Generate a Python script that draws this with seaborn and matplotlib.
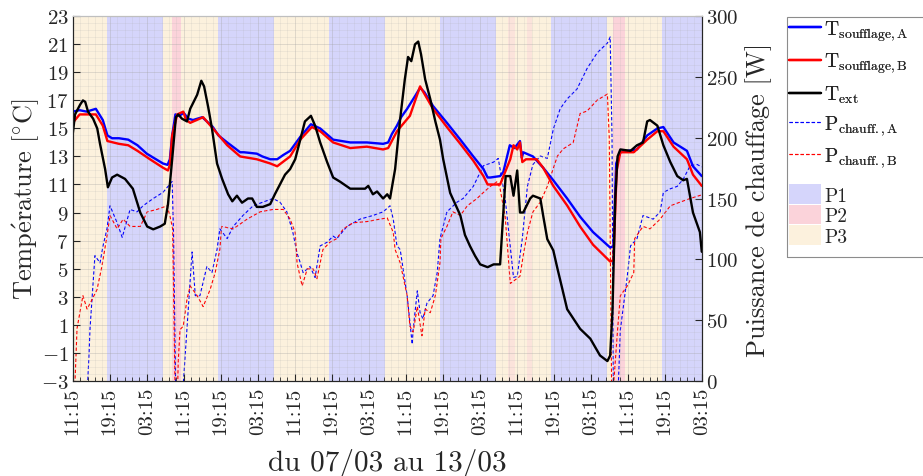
import numpy as np
import pandas as pd
import matplotlib
matplotlib.use("Agg")
import matplotlib.pyplot as plt
import matplotlib.dates as mdates
from matplotlib.lines import Line2D
from matplotlib.patches import Patch, Rectangle
import seaborn as sns

# ---- données (heures depuis le 07/03 11:15) ----
t_sa_h = [0, 1.5, 3, 5, 6.5, 7.5, 8.5, 10, 12, 14, 16, 18, 19.5, 20.5, 21, 21.5, 22.2, 23, 24, 25,
          26, 28, 29, 30.3, 31.5, 33.4, 35, 36.2, 37, 39.8, 41, 42.7, 44.2, 45.5, 47, 49.2, 51.5, 53.5,
          56.3, 60, 63.6, 67.1, 68.2, 69, 70.1, 71, 72.3, 74, 75.1, 76, 77.9, 80.9, 83.8, 86.6, 88.8,
          89.7, 90.3, 92.4, 93.1, 94.5, 95.5, 96.7, 97.1, 97.4, 99.5, 101.7, 103.9, 106.9, 109.7,
          112.5, 116.2, 116.9, 117.5, 118.4, 120, 122, 124.2, 126.4, 127.7, 129.9, 132.8, 134.1, 136]
t_sa = [16.2, 16.3, 16.2, 16.4, 15.6, 14.5, 14.3, 14.3, 14.2, 13.8, 13.2, 12.8, 12.5, 12.4, 12.8, 14.5,
        16.0, 15.9, 16.1, 15.7, 15.6, 15.8, 15.5, 15.1, 14.5, 14.0, 13.6, 13.3, 13.3, 13.2, 13.0, 12.8,
        12.8, 13.1, 13.4, 14.4, 15.3, 15.0, 14.2, 14.0, 14.0, 13.9, 14.0, 14.6, 15.2, 15.8, 16.4, 17.3,
        17.9, 17.6, 16.6, 15.4, 14.2, 13.0, 12.1, 11.5, 11.5, 11.6, 11.9, 13.8, 13.6, 14.1, 12.9, 13.3,
        13.0, 12.2, 11.3, 10.0, 8.7, 7.6, 6.5, 6.6, 12.5, 13.3, 13.4, 13.5, 14.5, 15.0, 15.1, 14.0,
        13.4, 12.3, 11.6]

t_sb_h = [0, 1.5, 3, 5, 6.5, 7.5, 10, 12, 14, 16.7, 19.5, 20.6, 21, 21.5, 22.6, 23.9, 24.5, 25.4,
          28.2, 30.3, 33.4, 36.2, 39.8, 42.7, 44.2, 47, 49.2, 51.7, 53.5, 56.3, 60, 63.6, 67.1, 68.2,
          70.1, 72.9, 75.1, 77.9, 80.9, 83.8, 86.6, 88.8, 89.7, 92.4, 94.6, 95.3, 96.1, 96.7, 97.2,
          98.0, 100.3, 101.7, 103.9, 106.9, 109.7, 112.5, 116.2, 116.9, 117.6, 118.4, 121.3, 124.2,
          126.4, 127.7, 129.9, 132.8, 134.1, 136]
t_sb = [15.4, 16.0, 16.0, 16.0, 15.2, 14.1, 13.9, 13.8, 13.4, 12.8, 12.2, 12.0, 12.4, 14.5, 16.0, 16.2,
        15.6, 15.4, 15.8, 15.0, 13.8, 13.0, 12.8, 12.5, 12.3, 13.0, 14.2, 15.1, 14.8, 14.0, 13.6, 13.7,
        13.5, 13.6, 14.8, 15.9, 18.0, 16.4, 15.1, 13.9, 12.7, 11.6, 11.0, 11.0, 12.8, 13.8, 13.5, 14.0,
        12.6, 12.8, 12.8, 12.2, 10.9, 9.5, 8.0, 6.7, 5.5, 5.6, 12.0, 13.3, 13.3, 14.2, 14.8, 14.8,
        13.7, 12.8, 11.7, 10.9]

t_ext_h = [0, 0.5, 1.6, 2.2, 2.7, 3.3, 4.4, 5.3, 5.9, 7.0, 7.6, 8.5, 9.6, 11.3, 13.0, 14.6, 16.1, 17.4,
           18.9, 19.9, 20.6, 21.5, 22.3, 22.8, 23.6, 24.7, 25.4, 26.9, 27.8, 28.4, 29.3, 30.1, 31.2,
           32.3, 33.6, 34.5, 35.5, 36.6, 37.9, 38.8, 39.8, 41.1, 42.7, 43.7, 44.8, 45.9, 47.0, 48.1,
           49.2, 50.2, 51.5, 52.4, 53.5, 55.0, 56.3, 57.8, 60.0, 62.1, 63.2, 63.9, 64.9, 65.8, 67.1,
           68.0, 68.6, 69.7, 70.8, 71.8, 72.5, 73.2, 74.0, 74.7, 75.3, 76.2, 77.3, 78.4, 79.4, 80.1,
           81.6, 82.7, 83.8, 84.8, 85.9, 87.0, 88.1, 89.7, 91.0, 92.4, 93.1, 93.6, 94.6, 95.3, 96.1,
           96.7, 97.4, 98.9, 99.5, 101.1, 101.7, 102.6, 103.9, 104.8, 106.9, 109.7, 111.9, 114.0,
           115.6, 116.2, 116.7, 117.3, 117.8, 118.4, 120.6, 122.0, 123.3, 124.2, 124.8, 126.4, 127.7,
           129.2, 130.7, 132.0, 132.8, 134.1, 135.6, 136]
t_ext = [14.6, 16.0, 16.7, 17.0, 16.9, 16.2, 15.7, 15.0, 13.9, 12.1, 10.8, 11.5, 11.7, 11.4, 10.7, 9.0,
         8.0, 7.8, 8.0, 8.2, 9.6, 12.8, 15.8, 16.0, 15.7, 15.5, 16.4, 17.4, 18.4, 18.0, 16.5, 15.0,
         12.5, 11.4, 10.3, 9.8, 10.2, 9.7, 10.0, 10.0, 9.4, 9.4, 9.6, 10.3, 11.0, 11.7, 12.1, 12.8,
         14.2, 15.5, 15.9, 15.2, 14.0, 12.6, 11.5, 11.2, 10.7, 10.7, 10.7, 10.9, 10.3, 10.5, 10.0,
         10.3, 10.0, 12.1, 15.7, 18.5, 20.1, 19.8, 21.0, 21.2, 20.3, 18.5, 17.1, 15.5, 14.2, 12.8,
         10.4, 9.6, 8.8, 7.4, 6.6, 5.9, 5.3, 5.1, 5.3, 5.3, 9.0, 11.6, 11.6, 10.2, 12.0, 9.0, 9.0,
         10.0, 10.2, 10.0, 8.8, 7.1, 6.3, 5.0, 2.1, 0.7, 0.0, -1.2, -1.6, -1.2, 2.0, 10.0, 13.0, 13.5,
         13.4, 13.8, 14.0, 15.5, 15.6, 15.2, 13.8, 12.6, 11.6, 11.3, 11.4, 9.0, 7.6, 6.2]

p_a_h = [0, 3.0, 3.5, 3.74, 4.8, 5.9, 6.55, 7.4, 8.06, 9.6, 10.7, 12.4, 13.9, 15.2, 17.4, 19.5, 20.6,
         21.5, 21.8, 22.3, 23.6, 24.7, 25.8, 26.5, 27.5, 29.0, 30.1, 31.2, 31.8, 33.4, 34.7, 36.8,
         39.0, 41.1, 43.3, 44.8, 46.3, 47.6, 48.5, 49.2, 49.8, 51.3, 52.4, 53.5, 55.0, 56.3, 57.1,
         59.3, 62.1, 64.9, 67.1, 68.6, 69.3, 70.1, 70.8, 72.3, 73.4, 73.6, 74.5, 75.1, 75.7, 76.6,
         77.9, 78.8, 79.4, 80.9, 83.1, 84.4, 86.6, 88.8, 91.0, 92.0, 92.4, 93.5, 95.3, 96.1, 97.2,
         98.3, 99.5, 101.1, 102.6, 103.9, 105.4, 106.9, 109.0, 111.2, 113.4, 115.6, 116.2, 116.6,
         116.9, 117.8, 118.4, 119.9, 120.6, 122.0, 123.3, 125.5, 127.0, 127.7, 129.2, 130.7, 132.0,
         133.5, 135.0, 136]
p_a = [-20, -20, 20, 43, 103, 97, 111, 125, 144, 130, 118, 141, 139, 144, 150, 155, 160, 164, 120, -20,
       -20, 43, 106, 70, 70, 94, 89, 108, 125, 117, 127, 136, 144, 147, 150, 147, 139, 122, 105, 97, 89,
       94, 85, 111, 114, 119, 117, 127, 133, 136, 139, 144, 133, 111, 108, 70, 30, 42, 74, 56, 51, 64,
       70, 89, 117, 139, 147, 150, 160, 177, 180, 183, 174, 150, 85, 86, 117, 160, 178, 185, 183, 207,
       224, 232, 240, 257, 270, 278, 283, 200, -20, -20, 42, 86, 111, 117, 136, 133, 139, 155, 158,
       160, 166, 177, 178, 176]

p_b_h = [0, 0.3, 0.5, 0.93, 2.2, 3.1, 4.2, 5.25, 6.3, 7.4, 8.06, 9.6, 10.9, 12.4, 14.6, 16.1, 18.2,
         20.4, 21.0, 21.6, 22.1, 22.3, 22.6, 22.8, 23.2, 23.9, 24.7, 25.4, 26.9, 28.2, 29.7, 30.8,
         31.8, 32.2, 34.7, 37.7, 40.5, 43.3, 45.5, 47.0, 48.1, 48.5, 49.6, 50.7, 52.0, 52.8, 54.1,
         55.6, 57.1, 58.5, 60.6, 63.6, 66.4, 68.0, 69.3, 69.7, 70.8, 72.3, 72.9, 73.6, 74.5, 75.5,
         76.2, 77.3, 78.4, 79.4, 79.6, 80.9, 82.2, 83.8, 85.3, 87.4, 88.8, 90.3, 91.8, 92.4, 93.5,
         94.6, 96.7, 97.4, 98.3, 99.5, 101.1, 102.6, 104.8, 106.1, 108.2, 109.7, 111.2, 113.4, 115.6,
         116.0, 116.5, 116.9, 117.0, 117.8, 118.4, 119.9, 121.3, 121.5, 123.3, 124.8, 127.0, 129.2,
         131.3, 133.5, 136]
p_b = [-20, -20, 0, 43, 70, 59, 67, 75, 94, 119, 136, 125, 133, 127, 127, 139, 141, 144, 136, 125, 0,
       -20, -20, 15, 42, 45, 67, 78, 70, 61, 75, 89, 108, 127, 125, 133, 139, 141, 141, 133, 122, 97,
       78, 92, 92, 84, 108, 114, 117, 125, 130, 131, 133, 134, 122, 108, 97, 70, 45, 40, 61, 37, 59,
       56, 70, 97, 117, 127, 139, 136, 144, 150, 155, 160, 164, 158, 135, 80, 86, 103, 122, 139, 147,
       160, 185, 191, 196, 220, 222, 231, 236, 200, 0, -20, 0, 42, 70, 78, 89, 117, 127, 125, 133,
       144, 147, 150, 153]

# périodes (heures)
p1_periods = [(7.5, 19.5), (31.5, 43.5), (55.5, 67.5), (79.5, 91.5), (103.5, 115.5), (127.5, 136)]
p2_periods = [(21.4, 23.4), (116.9, 119.5)]
p2_short_periods = [(94.2, 95.6), (98.2, 99.3)]

line_labels = [
    r"$\mathrm{T}_{\mathrm{soufflage,A}}$",
    r"$\mathrm{T}_{\mathrm{soufflage,B}}$",
    r"$\mathrm{T}_{\mathrm{ext}}$",
    r"$\mathrm{P}_{\mathrm{chauff.,A}}$",
    r"$\mathrm{P}_{\mathrm{chauff.,B}}$",
]
period_labels = ["P1", "P2", "P3"]

t0 = pd.Timestamp("2023-03-07 11:15")
t_end = t0 + pd.Timedelta(hours=136)


def to_time(hours):
    return t0 + pd.to_timedelta(np.asarray(hours, dtype=float), unit="h")


sns.set_style("ticks")
plt.rcParams["font.family"] = ["cmr10", "DejaVu Serif"]
plt.rcParams["mathtext.fontset"] = "cm"
plt.rcParams["axes.unicode_minus"] = False
plt.rcParams["axes.formatter.use_mathtext"] = True

col_p1 = "#d5d5fb"
col_p2 = "#fbd3da"
col_p3 = "#fcf1dd"
dash = (0, (3, 2))
W, H = 923, 477

fig = plt.figure(figsize=(W / 100, H / 100), dpi=100)
ax1 = fig.add_axes([0.0788, 0.1998, 0.6815, 0.7639])
ax2 = ax1.twinx()
ax1.set_zorder(2)
ax2.set_zorder(1)
ax1.patch.set_visible(False)
ax2.patch.set_visible(True)
ax2.patch.set_facecolor("white")

# fonds de périodes
ax2.axvspan(t0, t_end, color=col_p3, lw=0, zorder=0.1)
for a, b in p1_periods:
    ax2.axvspan(to_time([a])[0], to_time([b])[0], color=col_p1, lw=0, zorder=0.2)
for a, b in p2_periods:
    ax2.axvspan(to_time([a])[0], to_time([b])[0], color=col_p2, lw=0, zorder=0.2)
for a, b in p2_short_periods:
    ax2.axvspan(to_time([a])[0], to_time([b])[0], color=col_p2, alpha=0.45, lw=0, zorder=0.2)

# puissances (axe droit)
sns.lineplot(x=to_time(p_a_h), y=p_a, ax=ax2, color="#0000ff", lw=0.8, linestyle=dash,
             estimator=None, sort=False)
sns.lineplot(x=to_time(p_b_h), y=p_b, ax=ax2, color="#ff0000", lw=0.8, linestyle=dash,
             estimator=None, sort=False)

# températures (axe gauche)
sns.lineplot(x=to_time(t_sa_h), y=t_sa, ax=ax1, color="#0000ff", lw=1.7, estimator=None, sort=False)
sns.lineplot(x=to_time(t_sb_h), y=t_sb, ax=ax1, color="#ff0000", lw=1.7, estimator=None, sort=False)
sns.lineplot(x=to_time(t_ext_h), y=t_ext, ax=ax1, color="#000000", lw=1.7, estimator=None, sort=False)

# axes
ax1.set_xlim(t0, t_end)
ax1.set_ylim(-3, 23)
ax2.set_ylim(0, 300)
ax1.set_yticks(np.arange(-3, 24, 2))
ax1.set_yticks(np.arange(-3, 23.01, 0.5), minor=True)
ax2.set_yticks(np.arange(0, 301, 50))
major = pd.date_range(t0, t_end, freq="8h")
minor = pd.date_range(t0, t_end, freq="96min")
ax1.set_xticks(major)
ax1.set_xticks(minor, minor=True)
ax1.xaxis.set_major_formatter(mdates.DateFormatter("%H:%M"))

ax1.tick_params(axis="x", which="major", direction="in", length=5, labelsize=15, labelrotation=90, pad=4)
ax1.tick_params(axis="x", which="minor", direction="in", length=3)
ax1.tick_params(axis="y", which="major", direction="in", length=5, labelsize=15, pad=3)
ax1.tick_params(axis="y", which="minor", length=0)
ax2.tick_params(axis="y", direction="in", length=5, labelsize=15, pad=3)

ax1.grid(True, which="major", color="#a0a0a0", lw=0.5, alpha=0.45)
ax1.grid(True, which="minor", color="#b0b0b0", lw=0.4, alpha=0.3)

for ax in (ax1, ax2):
    for s in ax.spines.values():
        s.set_color("#262626")
        s.set_linewidth(0.8)
    ax.spines["top"].set_color("#bfbfbf")

ax1.set_xlabel("du 07/03 au 13/03", fontsize=21, labelpad=10)
ax1.set_ylabel(r"$\mathrm{Temp\acute{e}rature\ [^{\circ}C]}$", fontsize=19, labelpad=-1)
ax2.set_ylabel("Puissance de chauffage [W]", fontsize=19, labelpad=5)

# légende : cadre commun, lignes puis périodes
fig.add_artist(Rectangle((787 / W, 1 - 258 / H), 160 / W, 240 / H, transform=fig.transFigure,
                         fill=False, edgecolor="#8c8c8c", lw=0.8))
line_handles = [
    Line2D([], [], color="#0000ff", lw=1.7),
    Line2D([], [], color="#ff0000", lw=1.7),
    Line2D([], [], color="#000000", lw=1.7),
    Line2D([], [], color="#0000ff", lw=0.8, linestyle=dash),
    Line2D([], [], color="#ff0000", lw=0.8, linestyle=dash),
]
period_handles = [Patch(facecolor=c, edgecolor="none") for c in (col_p1, col_p2, col_p3)]
leg1 = fig.legend(line_handles, line_labels, loc="upper left", bbox_to_anchor=(789 / W, 1 - 19 / H),
                  fontsize=14, frameon=False, borderaxespad=0, borderpad=0, labelspacing=0.42,
                  handlelength=1.65, handletextpad=0.15)
fig.legend(period_handles, period_labels, loc="upper left", bbox_to_anchor=(789 / W, 1 - 185 / H),
           fontsize=14, frameon=False, borderaxespad=0, borderpad=0, labelspacing=0,
           handlelength=1.65, handleheight=1.2, handletextpad=0.15)
fig.add_artist(leg1)

fig.savefig("out.png", dpi=100)
